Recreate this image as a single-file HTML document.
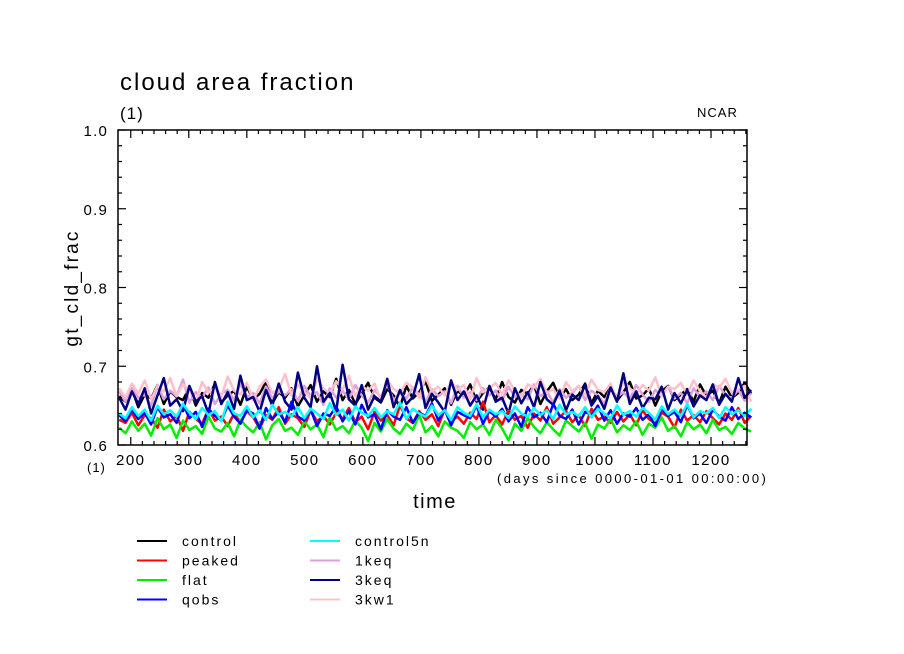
<!DOCTYPE html>
<html><head><meta charset="utf-8"><style>
body{margin:0;background:#fff;}
svg{display:block;font-family:"Liberation Sans",sans-serif;}
</style></head><body>
<svg id="chart" width="904" height="654">
<text x="120" y="90" font-size="24" letter-spacing="2">cloud area fraction</text>
<text x="120" y="119" font-size="17" letter-spacing="1">(1)</text>
<text x="697" y="117" font-size="13" letter-spacing="1">NCAR</text>
<text transform="translate(78,288) rotate(-90)" text-anchor="middle" font-size="19" letter-spacing="2.2">gt_cld_frac</text>
<text x="87" y="472" font-size="13" letter-spacing="1">(1)</text>
<text x="497" y="483" font-size="13" letter-spacing="2.4">(days since 0000-01-01 00:00:00)</text>
<text x="435" y="508" text-anchor="middle" font-size="20" letter-spacing="1.5">time</text>
<g id="series"></g>
<g id="axes"></g>
<g id="legend"></g>
</svg>
<script>
const seriesNames=["control","peaked","flat","qobs","control5n","1keq","3keq","3kw1"];
const seriesColors=["#000000","#ff0000","#00ee00","#0000ff","#00ffff","#dda0dd","#000080","#ffc0cb"];
const xTicks=[200,300,400,500,600,700,800,900,1000,1100,1200];
const yTicks=[0.6,0.7,0.8,0.9,1.0];
const dayStart=180, dayStep=11;
const control=[.662,.655,.671,.648,.664,.659,.676,.652,.668,.661,.657,.673,.650,.666,.660,.678,.654,.663,.669,.651,.674,.658,.665,.680,.653,.667,.660,.672,.649,.663,.676,.655,.668,.661,.684,.657,.670,.652,.665,.679,.660,.654,.671,.663,.648,.675,.659,.667,.681,.656,.664,.672,.651,.669,.662,.677,.655,.666,.673,.658,.680,.661,.654,.670,.665,.676,.652,.668,.679,.660,.671,.657,.664,.678,.653,.669,.661,.674,.656,.667,.680,.659,.663,.672,.650,.668,.675,.657,.664,.671,.655,.677,.662,.669,.653,.674,.660,.666,.679,.665];
const peaked=[.632,.628,.641,.625,.638,.634,.622,.645,.630,.637,.618,.642,.633,.627,.646,.631,.636,.624,.640,.629,.643,.635,.621,.638,.632,.648,.627,.639,.634,.623,.644,.630,.637,.626,.641,.633,.647,.629,.636,.620,.642,.631,.638,.625,.650,.634,.628,.643,.632,.639,.624,.645,.630,.636,.627,.641,.633,.655,.629,.638,.626,.644,.632,.637,.622,.640,.631,.648,.627,.635,.643,.629,.638,.624,.646,.632,.636,.628,.642,.630,.639,.625,.644,.633,.627,.641,.636,.622,.645,.631,.638,.629,.643,.634,.626,.640,.632,.647,.628,.637];
const flat=[.622,.615,.630,.618,.627,.612,.634,.620,.626,.609,.631,.619,.624,.614,.636,.621,.617,.628,.611,.632,.623,.616,.629,.607,.625,.633,.618,.622,.613,.630,.620,.626,.610,.635,.619,.624,.615,.631,.622,.605,.628,.617,.633,.621,.614,.627,.619,.638,.616,.624,.611,.630,.622,.618,.609,.629,.620,.626,.613,.632,.621,.606,.627,.618,.634,.623,.615,.629,.620,.612,.631,.624,.617,.628,.608,.626,.621,.633,.616,.625,.619,.630,.613,.627,.622,.635,.618,.624,.611,.629,.620,.626,.615,.632,.619,.623,.614,.628,.621,.617];
const qobs=[.638,.630,.645,.633,.641,.626,.648,.635,.639,.628,.652,.634,.642,.623,.646,.637,.631,.650,.636,.627,.644,.640,.621,.647,.633,.642,.629,.655,.636,.631,.645,.624,.640,.637,.649,.630,.643,.626,.651,.635,.639,.620,.644,.636,.632,.648,.628,.641,.637,.653,.631,.645,.625,.642,.638,.634,.650,.627,.643,.636,.646,.630,.640,.623,.648,.635,.641,.629,.652,.637,.633,.645,.626,.642,.638,.650,.631,.644,.627,.640,.636,.647,.632,.639,.624,.646,.637,.642,.629,.651,.634,.640,.628,.645,.636,.631,.648,.633,.641,.635];
const control5n=[.640,.634,.648,.637,.645,.631,.650,.639,.644,.636,.652,.641,.633,.647,.638,.643,.630,.655,.640,.637,.649,.635,.644,.632,.651,.639,.642,.636,.648,.634,.646,.640,.633,.653,.638,.645,.631,.649,.641,.637,.647,.635,.643,.639,.654,.633,.646,.640,.636,.650,.638,.644,.632,.648,.641,.637,.652,.635,.645,.639,.643,.634,.649,.640,.636,.647,.638,.644,.633,.651,.639,.642,.637,.648,.635,.646,.640,.634,.650,.638,.643,.636,.647,.641,.632,.649,.639,.645,.637,.652,.635,.643,.640,.647,.634,.648,.639,.644,.637,.646];
const keq1=[.668,.655,.672,.660,.664,.650,.676,.658,.669,.662,.683,.654,.667,.660,.673,.652,.665,.670,.657,.678,.661,.666,.653,.674,.659,.668,.663,.671,.656,.675,.662,.667,.651,.672,.660,.669,.658,.676,.663,.654,.670,.661,.677,.657,.666,.659,.673,.664,.655,.671,.662,.668,.653,.675,.660,.667,.657,.672,.663,.669,.656,.674,.661,.665,.658,.677,.662,.668,.654,.671,.660,.666,.675,.657,.669,.663,.652,.673,.661,.667,.658,.676,.664,.655,.670,.662,.674,.659,.666,.653,.672,.661,.668,.657,.675,.663,.660,.670,.656,.666];
const keq3=[.660,.645,.668,.652,.672,.640,.663,.685,.650,.658,.643,.675,.655,.662,.640,.680,.652,.667,.646,.688,.657,.661,.642,.670,.650,.678,.655,.645,.692,.660,.648,.700,.655,.666,.643,.702,.658,.650,.676,.645,.662,.655,.684,.648,.670,.652,.661,.690,.647,.665,.654,.642,.682,.657,.668,.650,.663,.645,.675,.655,.660,.640,.672,.653,.667,.648,.680,.658,.651,.669,.644,.664,.657,.676,.650,.662,.646,.673,.655,.691,.652,.668,.647,.660,.658,.674,.645,.666,.653,.670,.649,.663,.657,.677,.651,.665,.655,.685,.660,.670];
const kw13=[.672,.660,.678,.665,.682,.658,.675,.668,.685,.662,.677,.670,.655,.680,.667,.673,.661,.687,.669,.664,.679,.657,.674,.683,.666,.671,.690,.663,.676,.668,.659,.684,.672,.665,.681,.670,.688,.662,.675,.669,.678,.656,.683,.671,.666,.679,.673,.660,.686,.668,.674,.663,.680,.670,.676,.658,.685,.667,.672,.679,.664,.682,.669,.661,.677,.673,.684,.666,.671,.659,.680,.668,.675,.663,.683,.670,.667,.678,.657,.681,.672,.665,.676,.669,.686,.662,.674,.671,.679,.664,.682,.668,.660,.677,.673,.684,.666,.671,.675,.655];
const allSeries=[control,peaked,flat,qobs,control5n,keq1,keq3,kw13];
const drawOrder=[0,5,7,6,1,2,3,4];

const NS="http://www.w3.org/2000/svg";
const L=118,R=747,T=130,B=445;
const xMin=178,xMax=1262,yMin=0.6,yMax=1.0;
const xs=d=>L+(d-xMin)/(xMax-xMin)*(R-L);
const ys=v=>B-(v-yMin)/(yMax-yMin)*(B-T);
function mk(tag,attrs,parent){const e=document.createElementNS(NS,tag);for(const k in attrs)e.setAttribute(k,attrs[k]);parent.appendChild(e);return e;}

const sg=document.getElementById('series');
drawOrder.forEach(si=>{
  const vals=allSeries[si];
  const pts=vals.map((v,i)=>xs(dayStart+i*dayStep).toFixed(1)+","+ys(v).toFixed(1)).join(" ");
  const pl=mk('polyline',{points:pts,fill:'none',stroke:seriesColors[si],'stroke-width':2.5,'stroke-linejoin':'round'},sg);
  
  
});

const ag=document.getElementById('axes');
const frame=mk('rect',{x:L,y:T,width:R-L,height:B-T,fill:'none',stroke:'#000','stroke-width':1.5},ag);


for(let d=200; d<=xMax; d+=20){
  const x=xs(d), major=(d%100===0), len=major?8:4;
  mk('line',{x1:x,y1:B,x2:x,y2:B-len,stroke:'#000','stroke-width':1.2},ag);
  mk('line',{x1:x,y1:T,x2:x,y2:T+len,stroke:'#000','stroke-width':1.2},ag);
}
xTicks.forEach(t=>{
  const tx=mk('text',{x:xs(t),y:465,'text-anchor':'middle','font-size':15,'letter-spacing':1.5},ag);
  tx.textContent=t;
  
  
});
for(let k=0;k<=20;k++){
  const v=0.6+k*0.02, y=ys(v), major=(k%5===0), len=major?8:4;
  mk('line',{x1:L,y1:y,x2:L+len,y2:y,stroke:'#000','stroke-width':1.2},ag);
  mk('line',{x1:R,y1:y,x2:R-len,y2:y,stroke:'#000','stroke-width':1.2},ag);
}
yTicks.forEach(t=>{
  const tx=mk('text',{x:108,y:ys(t)+6,'text-anchor':'end','font-size':15,'letter-spacing':1.2},ag);
  tx.textContent=t.toFixed(1);
  
  
});

const lg=document.getElementById('legend');
seriesNames.forEach((n,i)=>{
  const col=Math.floor(i/4), row=i%4;
  const x0=col?310:137, y0=541+row*19.5;
  const g=mk('g',{},lg);
  
  
  mk('line',{x1:x0,y1:y0,x2:x0+30,y2:y0,stroke:seriesColors[i],'stroke-width':2},g);
  const tx=mk('text',{x:x0+45,y:y0+5,'font-size':14,'letter-spacing':2},g);
  tx.textContent=n;
});
</script>
</body></html>
